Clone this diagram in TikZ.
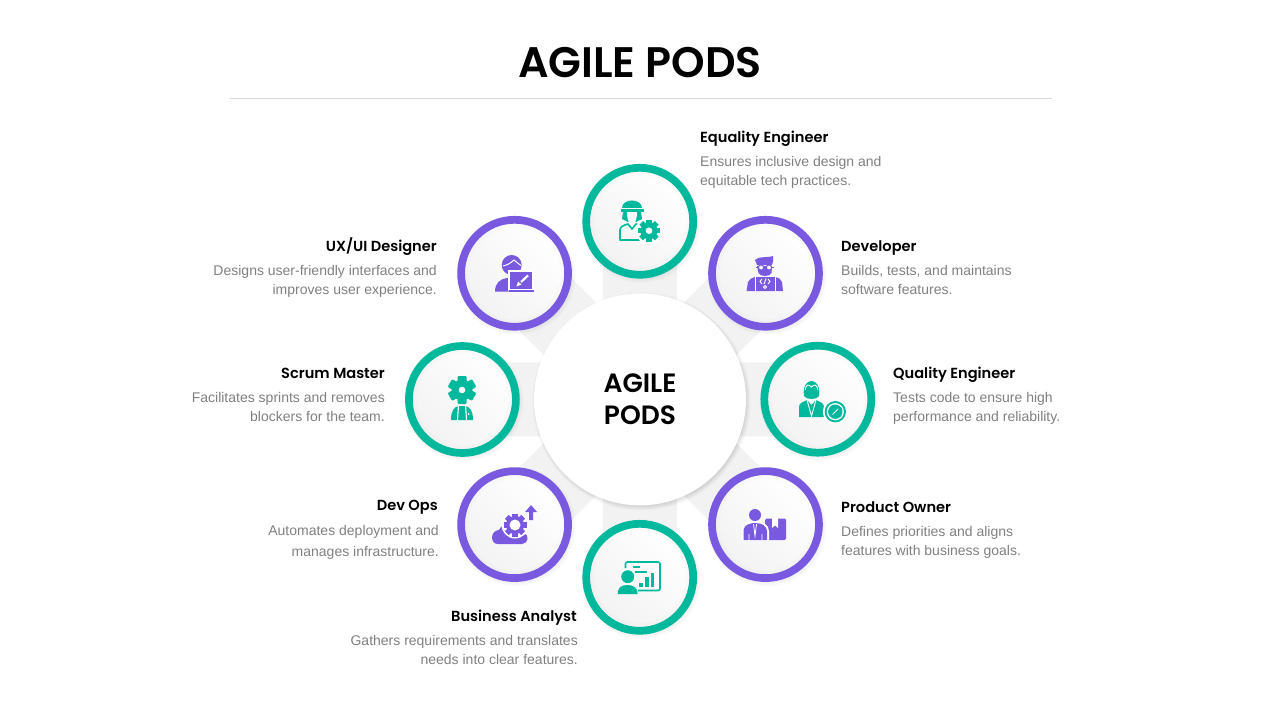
\documentclass[tikz,border=0pt]{standalone}
\usepackage{fontspec}
\setmainfont{Liberation Sans}
\newfontfamily\headfont{Poppins SemiBold}
\usetikzlibrary{backgrounds,shadings}
\definecolor{tealc}{RGB}{0,184,156}
\definecolor{purplec}{RGB}{120,89,224}
\definecolor{spokec}{RGB}{242,242,243}
\definecolor{bodyc}{RGB}{128,128,128}
\definecolor{rulec}{RGB}{217,217,217}
\tikzset{
  ringnode/.style={circle,minimum size=107pt,inner sep=0pt,line width=7.7pt,
    shading=axis,top color=white,bottom color=white!95!black,shading angle=-45},
  tealring/.style={ringnode,draw=tealc},
  purplering/.style={ringnode,draw=purplec},
  spoke/.style={line width=74pt,spokec},
  hubnode/.style={circle,minimum size=212pt,inner sep=0pt,fill=white,align=center,
    font=\headfont\fontsize{26.5}{32}\selectfont},
  titletext/.style={font=\headfont\fontsize{42.7}{50}\selectfont},
  headtext/.style={font=\headfont\fontsize{14.6}{18}\selectfont,inner sep=0pt,text height=11pt,text depth=0pt},
  bodytext/.style={font=\fontsize{14}{19}\selectfont,text=bodyc,inner sep=0pt,text depth=0pt},
  headleft/.style={headtext,anchor=west},
  headright/.style={headtext,anchor=east},
  bodyleft/.style={bodytext,anchor=west,align=left},
  bodyright/.style={bodytext,anchor=east,align=right}
}
% soft shadow: node name, radius, opacity
\newcommand{\softshadow}[3]{%
  \foreach \k in {0,1,...,6}
    \fill[black,opacity=#3,shift={(#1)}] (1.5,2) circle ({#2-3+\k});
}
% faint shade inside a ring
\newcommand{\innershade}[1]{%
  \foreach \k in {0,1,2,3}
    \draw[black,opacity=.012,line width=1pt,shift={(#1)}] (0,0) circle ({49.5-\k});
}
% cog: x, y, radius, colour
\newcommand{\cogicon}[4]{%
  \foreach \a in {0,45,90,135}
    \fill[#4,shift={(#1,#2)},rotate=\a] (-.24*#3,-#3) rectangle (.24*#3,#3);
  \fill[#4] (#1,#2) circle ({.78*#3});
  \fill[white] (#1,#2) circle ({.3*#3});
}

\begin{document}
\begin{tikzpicture}[x=1pt,y=-1pt]
\useasboundingbox (0,0) rectangle (1280,720);
\draw (640,63) node[titletext](title){AGILE PODS};
\coordinate (ruleleft) at (229,98);
\coordinate (ruleright) at (1052,98);
\draw[rulec,line width=.8pt] (ruleleft) -- (ruleright);

\draw (640,398.7) node[hubnode,text depth=0pt,yshift=-.7pt](hub){AGILE\\PODS};
\draw (639.7,221.3) node[tealring](equality){};
\draw (765.5,273.3) node[purplering](developer){};
\draw (817.8,399.2) node[tealring](quality){};
\draw (765.5,524.6) node[purplering](product){};
\draw (639.7,577.3) node[tealring](analyst){};
\draw (514.6,524.6) node[purplering](devops){};
\draw (462.4,399.5) node[tealring](scrum){};
\draw (514.6,273.3) node[purplering](designer){};

\begin{scope}[on background layer]
\draw[spoke] (hub.center) -- (equality.center);
\draw[spoke] (hub.center) -- (developer.center);
\draw[spoke] (hub.center) -- (quality.center);
\draw[spoke] (hub.center) -- (product.center);
\draw[spoke] (hub.center) -- (analyst.center);
\draw[spoke] (hub.center) -- (devops.center);
\draw[spoke] (hub.center) -- (scrum.center);
\draw[spoke] (hub.center) -- (designer.center);
\softshadow{hub}{106}{.022}
\softshadow{equality}{57}{.01}
\softshadow{developer}{57}{.01}
\softshadow{quality}{57}{.01}
\softshadow{product}{57}{.01}
\softshadow{analyst}{57}{.01}
\softshadow{devops}{57}{.01}
\softshadow{scrum}{57}{.01}
\softshadow{designer}{57}{.01}
\end{scope}
\innershade{equality}
\innershade{developer}
\innershade{quality}
\innershade{product}
\innershade{analyst}
\innershade{devops}
\innershade{scrum}
\innershade{designer}

% labels
\draw (700,137) node[headleft](equalityhead){Equality Engineer};
\draw (700,170.5) node[bodyleft](equalitybody){Ensures inclusive design and\\equitable tech practices.};
\draw (841,246) node[headleft](developerhead){Developer};
\draw (841,279.5) node[bodyleft](developerbody){Builds, tests, and maintains\\software features.};
\draw (893,373) node[headleft](qualityhead){Quality Engineer};
\draw (893,406.5) node[bodyleft](qualitybody){Tests code to ensure high\\performance and reliability.};
\draw (841,507) node[headleft](producthead){Product Owner};
\draw (841,540.5) node[bodyleft](productbody){Defines priorities and aligns\\features with business goals.};
\draw (577,616) node[headright](analysthead){Business Analyst};
\draw (578,649.5) node[bodyright](analystbody){Gathers requirements and translates\\needs into clear features.};
\draw (438,505) node[headright](devopshead){Dev Ops};
\draw (439,540.5) node[bodyright,font=\fontsize{14}{21}\selectfont](devopsbody){Automates deployment and\\manages infrastructure.};
\draw (385,373) node[headright](scrumhead){Scrum Master};
\draw (385,406.5) node[bodyright](scrumbody){Facilitates sprints and removes\\blockers for the team.};
\draw (437,246) node[headright](designerhead){UX/UI Designer};
\draw (437,279.5) node[bodyright](designerbody){Designs user-friendly interfaces and\\improves user experience.};

% equality engineer icon
\fill[tealc] (622,208) .. controls (622,198) and (642,198) .. (642,208) -- cycle;
\fill[tealc] (620.5,209) rectangle (643.5,211.5);
\fill[tealc] (623,212) -- (622,219) -- (628,222) -- (636,222) -- (642,219) -- (641,212) -- cycle;
\fill[white] (627,212) -- (637,212) .. controls (637,221) and (634,225) .. (632,225) .. controls (630,225) and (627,221) .. (627,212);
\draw[tealc,line width=1.6pt,line join=round] (620,240) -- (620,230) .. controls (620,226) and (625,225) .. (628,224) -- (632,229) -- (636,224) .. controls (640,225) and (644,226) .. (644,232) -- (644,240) -- cycle;
\fill[white] (649,230.7) circle (13.5);
\cogicon{649}{230.7}{11}{tealc}

% developer icon
\fill[purplec] (755,260) .. controls (758,256) and (768,258) .. (773,256) .. controls (774,259) and (773,262) .. (772,265) -- (757,265) -- cycle;
\fill[purplec] (757,266) -- (772,266) -- (771.5,273) .. controls (770,277) and (760,277) .. (758.5,273) -- cycle;
\draw[purplec,line width=1pt,fill=white] (761,267.5) circle (2.6);
\draw[purplec,line width=1pt,fill=white] (769,267.5) circle (2.6);
\draw[purplec,line width=1pt] (755.5,267) -- (758,267) (772,267) -- (774,267);
\fill[purplec] (746.5,291) -- (748,282) .. controls (749,279) and (752,278) .. (755,277) -- (775,277) .. controls (779,278) and (781,279) .. (782,282) -- (783,291) -- cycle;
\draw[white,line width=1pt] (755,277) -- (755,291);
\draw[white,line width=1pt] (775,277) -- (775,291);
\draw[white,line width=.9pt] (762,279) -- (760,281.5) -- (762,284) (768,279) -- (770,281.5) -- (768,284) (766,278.5) -- (764,284);
\draw[white,line width=.9pt] (765,287) circle (1.5);

% quality engineer icon
\fill[tealc] (804,396) .. controls (801,376) and (822,376) .. (819,396) .. controls (817,400) and (806,400) .. (804,396) -- cycle;
\draw[white,line width=.9pt] (805,390) .. controls (806,384) and (809,384) .. (811.5,387) .. controls (814,384) and (817,384) .. (818,390);
\fill[tealc] (799,417) -- (799,407) .. controls (799,403) and (803,402) .. (807,400) -- (811.5,405) -- (816,400) .. controls (820,402) and (824,403) .. (824,407) -- (824,417) -- cycle;
\draw[white,line width=.9pt] (807,400) -- (811.5,416) -- (816,400);
\fill[white] (835.3,411.7) circle (12.5);
\fill[tealc] (835.3,411.7) circle (10.7);
\fill[white] (835.3,411.7) circle (8.6);
\fill[tealc] (835.3,411.7) circle (7.2);
\draw[white,line width=1pt] (832.5,414.5) -- (838,409);

% product owner icon
\fill[purplec,rounded corners=1.5pt] (765,518.5) rectangle (786,540);
\fill[white] (772,518) -- (772,528) -- (775,525.5) -- (778,528) -- (778,518) -- cycle;
\fill[white] (741.5,541) -- (741.5,530) .. controls (742,524) and (749,521) .. (755,521) .. controls (763,521) and (769,525) .. (769,531) -- (769,541) -- cycle;
\fill[purplec] (755,515) circle (6);
\fill[purplec] (743.5,540) -- (743.5,530) .. controls (744,525) and (750,523) .. (755,523) .. controls (762,523) and (767,526) .. (767,531) -- (767,540) -- cycle;
\draw[white,line width=.8pt] (749,534) -- (749,540) (762,534) -- (762,540) (753.5,524) -- (755,536) -- (756.5,524);

% business analyst icon
\draw[tealc,line width=1.6pt,rounded corners=2pt] (625.5,568) -- (625.5,562) -- (660,562) -- (660,590.5) -- (638,590.5);
\fill[tealc] (633,566) rectangle (640,568);
\fill[tealc] (635,571) rectangle (647,573);
\fill[tealc] (639,583) rectangle (643,587);
\fill[tealc] (645,577) rectangle (649,587);
\fill[tealc] (651,573) rectangle (654,587);
\fill[white] (627.7,576.7) circle (8);
\fill[tealc] (627.7,576.7) circle (6.5);
\fill[tealc] (617.7,594) .. controls (617.7,588) and (621,585) .. (627,585) .. controls (634,585) and (637.7,588) .. (637.7,594) -- cycle;

% dev ops icon
\fill[purplec] (492,537) .. controls (492,532) and (497,530) .. (499,530) .. controls (500,524) and (510,524) .. (512,530) -- (524,533) .. controls (530,535) and (528,544) .. (522,544) -- (498,544) .. controls (494,544) and (492,541) .. (492,537);
\fill[white] (515,525) circle (13.5);
\cogicon{515}{525}{11.5}{purplec}
\fill[white] (515,525) circle (5.5);
\fill[purplec] (531,505) -- (537,512) -- (533,512) -- (533,520) -- (529,520) -- (529,512) -- (525,512) -- cycle;

% scrum master icon
\foreach \a in {0,60,120}
  \fill[tealc,shift={(462,390)},rotate=\a,rounded corners=1pt] (-4.5,-14) rectangle (4.5,14);
\fill[tealc] (462,390) circle (10.5);
\fill[white] (462,390) circle (3.3);
\fill[tealc] (451,420) .. controls (451,411) and (454,406.5) .. (459,406) -- (465,406) .. controls (470,406.5) and (473,411) .. (473,420) -- cycle;
\draw[white,line width=1.1pt] (458.5,405) -- (457.5,420) (465.5,405) -- (466.5,420);
\fill[white] (468.5,414) circle (1);

% ux designer icon
\fill[purplec] (511.7,265) circle (10);
\draw[white,line width=1pt] (503,266) .. controls (508,265) and (512,262) .. (514,260) .. controls (516,262) and (519,264) .. (521,265.5);
\fill[purplec] (495,291.7) .. controls (495,283) and (500,279) .. (507,278) -- (515,278) -- (515,291.7) -- cycle;
\fill[white] (508,269.5) rectangle (534,291);
\fill[purplec] (510,271.7) rectangle (532.3,288.5);
\fill[purplec] (509,290) rectangle (533.5,291.7);
\draw[white,line width=2.2pt] (521,282) -- (528,275.5);
\fill[white] (516.5,286.5) -- (518,281.5) -- (521.5,284.5) -- cycle;
\end{tikzpicture}
\end{document}
